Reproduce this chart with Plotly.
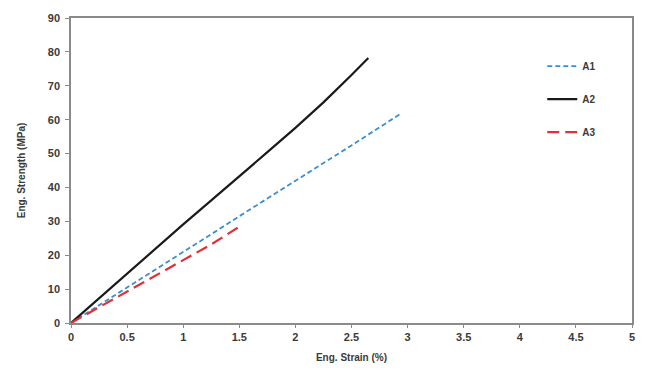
import plotly.graph_objects as go

# Tensile curves: engineering strain (%) vs engineering strength (MPa)
a1_strain = [0, 0.25, 0.5, 0.75, 1.0, 1.25, 1.5, 1.75, 2.0, 2.25, 2.5, 2.75, 2.95]
a1_stress = [0, 5.2, 10.5, 15.8, 21.0, 26.2, 31.5, 36.8, 42.0, 47.2, 52.4, 57.8, 62.0]

a2_strain = [0, 0.25, 0.5, 0.75, 1.0, 1.25, 1.5, 1.75, 2.0, 2.25, 2.5, 2.65]
a2_stress = [0, 7.3, 14.6, 21.9, 29.1, 36.2, 43.2, 50.4, 57.6, 65.1, 73.2, 78.2]

a3_strain = [0, 0.25, 0.5, 0.75, 1.0, 1.25, 1.5]
a3_stress = [0, 4.6, 9.2, 13.8, 18.5, 23.2, 28.4]

x_ticks = [0, 0.5, 1, 1.5, 2, 2.5, 3, 3.5, 4, 4.5, 5]
x_labels = ["0", "0.5", "1", "1.5", "2", "2.5", "3", "3.5", "4", "4.5", "5"]
y_ticks = [0, 10, 20, 30, 40, 50, 60, 70, 80, 90]

font_family = "Liberation Sans, Arial, sans-serif"
axis_color = "#8a8a8a"
text_color = "#3a3a3a"

fig = go.Figure()
fig.add_trace(go.Scatter(x=a1_strain, y=a1_stress, mode="lines", name="A1",
                         legendgroup="a1",
                         line=dict(color="#3a8fd0", width=1.8, dash="5px,3px")))
fig.add_trace(go.Scatter(x=a2_strain, y=a2_stress, mode="lines", name="A2",
                         legendgroup="a2",
                         line=dict(color="#1a1a1a", width=2.2)))
fig.add_trace(go.Scatter(x=a3_strain, y=a3_stress, mode="lines", name="A3",
                         legendgroup="a3",
                         line=dict(color="#e0303a", width=2.2, dash="12px,6px")))

fig.update_layout(
    width=652, height=374,
    margin=dict(l=71, r=20, t=13, b=50),
    paper_bgcolor="white", plot_bgcolor="white",
    font=dict(family=font_family, size=10, color=text_color),
    showlegend=True,
    legend=dict(x=0.84, y=0.89, xanchor="left", yanchor="top",
                tracegroupgap=14, itemwidth=30,
                font=dict(size=10, color=text_color, weight="bold"),
                bgcolor="rgba(0,0,0,0)"),
)

fig.update_xaxes(
    range=[0, 5], tickvals=x_ticks, ticktext=x_labels,
    showgrid=False, zeroline=False,
    showline=True, linecolor=axis_color, linewidth=1.5, mirror=True,
    ticks="outside", ticklen=3, tickcolor=axis_color,
    tickfont=dict(size=11, weight="bold", color=text_color),
    title=dict(text="Eng. Strain (%)", standoff=12,
               font=dict(size=10, weight="bold", color=text_color)),
)
fig.update_yaxes(
    range=[0, 90], tickvals=y_ticks,
    showgrid=False, zeroline=False,
    showline=True, linecolor=axis_color, linewidth=1.5, mirror=True,
    ticks="outside", ticklen=4, tickcolor=axis_color,
    ticklabelstandoff=3,
    tickfont=dict(size=11, weight="bold", color=text_color),
    title=dict(text="Eng. Strength (MPa)", standoff=20,
               font=dict(size=10, weight="bold", color=text_color)),
)

fig.write_html("out.html")
